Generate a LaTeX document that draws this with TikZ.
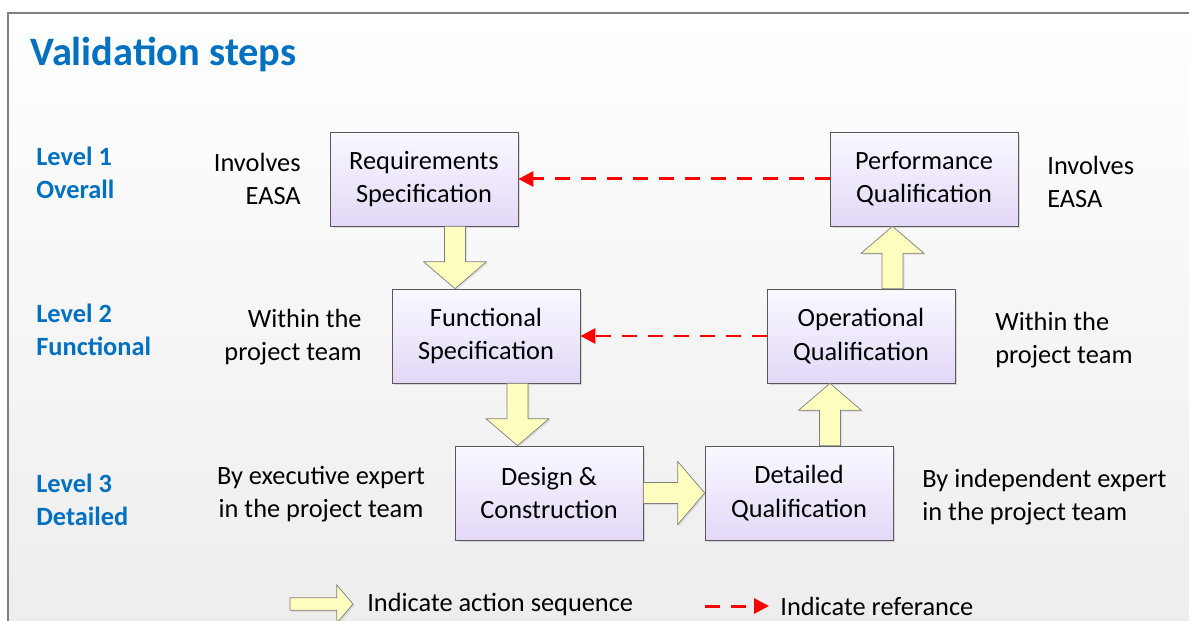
\documentclass[tikz,border=0pt]{standalone}
\usepackage{fontspec}
\setmainfont{Carlito}
\usetikzlibrary{calc,shadows,arrows.meta}

\definecolor{titleblue}{HTML}{0070C0}
\definecolor{boxtop}{HTML}{FAF8FF}
\definecolor{boxbot}{HTML}{E3D8F7}
\definecolor{boxline}{HTML}{595959}
\definecolor{seqfill}{HTML}{FFFFC0}
\definecolor{seqline}{HTML}{7F7F7F}

% fat block arrow from #2 to #3, #1 scales shaft and head
\newcommand{\seqarrow}[3][1]{%
  \pgfmathsetlengthmacro\shaftw{0.21cm*#1}%
  \pgfmathsetlengthmacro\headw{0.63cm*#1}%
  \pgfmathsetlengthmacro\headl{0.54cm*#1}%
  \coordinate (sa) at (#2);
  \coordinate (sb) at (#3);
  \coordinate (sh) at ($(sb)!\headl!(sa)$);
  \draw[seq] ($(sa)!\shaftw!90:(sb)$) -- ($(sh)!\shaftw!90:(sb)$)
    -- ($(sh)!\headw!90:(sb)$) -- (sb) -- ($(sh)!\headw!-90:(sb)$)
    -- ($(sh)!\shaftw!-90:(sb)$) -- ($(sa)!\shaftw!-90:(sb)$) -- cycle;}

\begin{document}
\begin{tikzpicture}[x=0.02cm, y=-0.02cm, font=\fontsize{15}{19}\selectfont,
    stepbox/.style={draw=boxline, top color=boxtop, bottom color=boxbot,
                    minimum width=3.76cm, minimum height=1.88cm,
                    align=center, inner sep=0pt,
                    drop shadow={shadow xshift=0.05cm, shadow yshift=-0.05cm,
                                 opacity=0.25}},
    note/.style={inner sep=0pt},
    level/.style={inner sep=0pt, align=left, anchor=west, text=titleblue,
                  font=\fontsize{15}{19}\selectfont\bfseries},
    seq/.style={draw=seqline, fill=seqfill, line join=miter,
                drop shadow={shadow xshift=0.03cm, shadow yshift=-0.03cm,
                             opacity=0.2}},
    ref/.style={red, line width=0.06cm, dash pattern=on 0.3cm off 0.22cm,
                -{Triangle[length=0.3cm, width=0.3cm]}}]

  \useasboundingbox (0,0) rectangle (1189,621);
  \fill[white] (0,0) rectangle (1189,621);
  \fill[top color=white, bottom color=black!7] (8,13) rectangle (1189,621);
  \draw[black!50, line width=0.04cm] (1189,13) -- (8,13) -- (8,621);

  \node[anchor=west, inner sep=0pt, text=titleblue,
        font=\fontsize{23}{28}\selectfont\bfseries] (title) at (30,54)
        {Validation steps};

  % levels
  \node[level] (lv1) at (36,173) {Level 1\\Overall};
  \node[level] (lv2) at (36,330) {Level 2\\Functional};
  \node[level] (lv3) at (36,500) {Level 3\\Detailed};

  % steps
  \node[stepbox] (req)  at (424,179) {Requirements\\Specification};
  \node[stepbox] (perf) at (924,179) {Performance\\Qualification};
  \node[stepbox] (func) at (486,336) {Functional\\Specification};
  \node[stepbox] (oper) at (861,336) {Operational\\Qualification};
  \node[stepbox] (des)  at (549,493) {Design \&\\Construction};
  \node[stepbox] (det)  at (799,493) {Detailed\\Qualification};

  % who is involved
  \node[note, anchor=east, align=right] (inv1) at (301,179) {Involves\\EASA};
  \node[note, anchor=west, align=left]  (inv2) at (1047,182) {Involves\\EASA};
  \node[note, anchor=east, align=right] (team1) at (362,337) {Within the\\project team};
  \node[note, anchor=west, align=left]  (team2) at (995,340) {Within the\\project team};
  \node[note, align=center] (exp1) at (321,494) {By executive expert\\in the project team};
  \node[note, anchor=west, align=left] (exp2) at (922,497) {By independent expert\\in the project team};

  % action sequence
  \coordinate (m1) at ($(req.south)!.5!(func.north)$);
  \seqarrow{m1 |- req.south}{m1 |- func.north}
  \coordinate (m2) at ($(func.south)!.5!(des.north)$);
  \seqarrow{m2 |- func.south}{m2 |- des.north}
  \seqarrow{des.east}{det.west}
  \coordinate (m3) at ($(det.north)!.5!(oper.south)$);
  \seqarrow{m3 |- det.north}{m3 |- oper.south}
  \coordinate (m4) at ($(oper.north)!.5!(perf.south)$);
  \seqarrow{m4 |- oper.north}{m4 |- perf.south}

  % references
  \draw[ref] (perf.west) -- (req.east);
  \draw[ref] (oper.west) -- (func.east);

  % legend
  \coordinate (ls1) at (290,604);
  \coordinate (ls2) at (353,604);
  \seqarrow[0.6]{ls1}{ls2}
  \node[note, anchor=west] (lgseq) at (367,604) {Indicate action sequence};
  \coordinate (lr1) at (705,606);
  \coordinate (lr2) at (769,606);
  \draw[ref] (lr1) -- (lr2);
  \node[note, anchor=west] (lgref) at (780,606) {Indicate referance};
\end{tikzpicture}
\end{document}
